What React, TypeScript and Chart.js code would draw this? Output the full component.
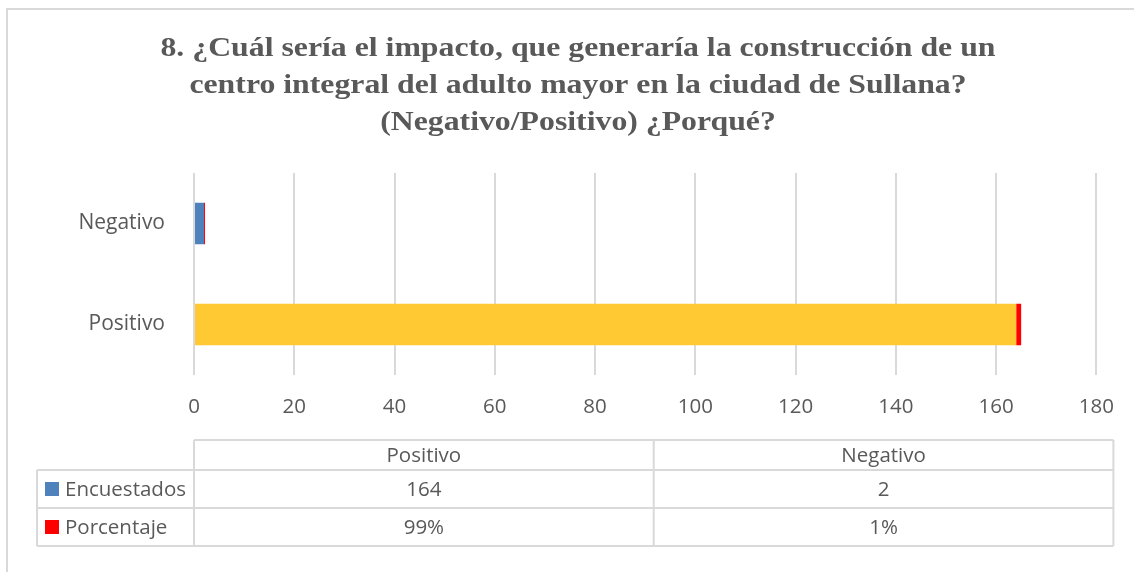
import React, { useEffect, useRef } from 'react';
import { Chart, registerables } from 'chart.js';

Chart.register(...registerables);

const categories = ['Positivo', 'Negativo'];
const encuestados = [164, 2];
const porcentaje = [0.99, 0.01];
const seriesNames = ['Encuestados', 'Porcentaje'];
const titleLines = [
  '8. ¿Cuál sería el impacto, que generaría la construcción de un',
  'centro integral del adulto mayor en la ciudad de Sullana?',
  '(Negativo/Positivo) ¿Porqué?',
];
const xMin = 0;
const xMax = 180;
const xStep = 20;

const encuestadosBarColors = ['#FFC933', '#4F81BD'];
const seriesColors = ['#4F81BD', '#FF0000'];
const TEXT = '#595959';
const LINE = '#D9D9D9';
const SANS = '"Open Sans", "Noto Sans", sans-serif';
const SERIF = '"Liberation Serif", "Times New Roman", serif';

const formatPct = (v: number) => `${Math.round(v * 100)}%`;

const framePlugin = {
  id: 'frame',
  beforeDraw(chart: any) {
    const { ctx, width, height } = chart;
    ctx.save();
    ctx.fillStyle = '#ffffff';
    ctx.fillRect(0, 0, width, height);
    ctx.strokeStyle = LINE;
    ctx.lineWidth = 2;
    ctx.beginPath();
    ctx.moveTo(7, height + 2);
    ctx.lineTo(7, 9);
    ctx.lineTo(width + 2, 9);
    ctx.stroke();
    ctx.restore();
  },
};

const titlePlugin = {
  id: 'stretchedTitle',
  afterDraw(chart: any) {
    const { ctx } = chart;
    const cx = 578;
    const sx = 1.135;
    ctx.save();
    ctx.fillStyle = TEXT;
    ctx.font = `bold 28px ${SERIF}`;
    ctx.textAlign = 'center';
    ctx.textBaseline = 'alphabetic';
    titleLines.forEach((line, i) => {
      ctx.save();
      ctx.translate(cx, 56 + i * 37);
      ctx.scale(sx, 1);
      ctx.fillText(line, 0, 0);
      ctx.restore();
    });
    ctx.restore();
  },
};

const tablePlugin = {
  id: 'dataTable',
  afterDraw(chart: any) {
    const { ctx, chartArea } = chart;
    const left = chartArea.left;
    const right = chartArea.right + 17;
    const legendLeft = 37;
    const colW = (right - left) / categories.length;
    const yHead = chartArea.bottom + 65;
    const y1 = yHead + 30;
    const y2 = y1 + 38;
    const y3 = y2 + 38;

    ctx.save();
    ctx.strokeStyle = LINE;
    ctx.lineWidth = 2;
    ctx.beginPath();
    ctx.moveTo(left, yHead);
    ctx.lineTo(right, yHead);
    [y1, y2, y3].forEach((y) => {
      ctx.moveTo(legendLeft, y);
      ctx.lineTo(right, y);
    });
    ctx.moveTo(legendLeft, y1);
    ctx.lineTo(legendLeft, y3);
    for (let i = 0; i <= categories.length; i++) {
      const x = left + colW * i;
      ctx.moveTo(x, yHead);
      ctx.lineTo(x, y3);
    }
    ctx.stroke();

    ctx.fillStyle = TEXT;
    ctx.font = `20.5px ${SANS}`;
    ctx.textBaseline = 'middle';
    ctx.textAlign = 'center';
    categories.forEach((c, i) => {
      const cx = left + colW * (i + 0.5);
      ctx.fillText(c, cx, (yHead + y1) / 2 + 1);
      ctx.fillText(String(encuestados[i]), cx, (y1 + y2) / 2 + 1);
      ctx.fillText(formatPct(porcentaje[i]), cx, (y2 + y3) / 2 + 1);
    });

    const rows = [(y1 + y2) / 2, (y2 + y3) / 2];
    seriesNames.forEach((name, i) => {
      ctx.fillStyle = seriesColors[i];
      ctx.fillRect(legendLeft + 8, rows[i] - 7, 14, 14);
      ctx.fillStyle = TEXT;
      ctx.textAlign = 'left';
      ctx.fillText(name, legendLeft + 28, rows[i] + 1);
    });
    ctx.restore();
  },
};

export default function App() {
  const ref = useRef<HTMLCanvasElement>(null);

  useEffect(() => {
    if (!ref.current) return;
    const chart = new Chart(ref.current, {
      type: 'bar',
      data: {
        labels: categories,
        datasets: [
          {
            label: seriesNames[0],
            data: encuestados,
            backgroundColor: encuestadosBarColors,
            stack: 's',
          },
          {
            label: seriesNames[1],
            data: porcentaje,
            backgroundColor: seriesColors[1],
            stack: 's',
            minBarLength: 1,
          },
        ],
      },
      options: {
        indexAxis: 'y',
        responsive: false,
        animation: false,
        events: [],
        barPercentage: 1,
        categoryPercentage: 0.41,
        layout: { padding: { left: 0, right: 35, top: 173, bottom: 0 } },
        scales: {
          x: {
            min: xMin,
            max: xMax,
            stacked: true,
            ticks: {
              stepSize: xStep,
              color: TEXT,
              font: { family: SANS, size: 20.5 },
              padding: 20,
            },
            grid: { color: LINE, lineWidth: 2, drawTicks: false },
            border: { display: false },
            afterFit: (s: any) => {
              s.height = 197;
            },
          },
          y: {
            reverse: true,
            stacked: true,
            ticks: {
              color: TEXT,
              font: { family: SANS, size: 21 },
              padding: 21,
            },
            grid: { display: false },
            border: { display: false },
            afterFit: (s: any) => {
              s.width = 194;
            },
          },
        },
        plugins: {
          legend: { display: false },
          tooltip: { enabled: false },
          title: { display: false },
        },
      },
      plugins: [framePlugin, titlePlugin, tablePlugin],
    });
    return () => chart.destroy();
  }, []);

  return (
    <div style={{ position: 'fixed', left: 0, top: 0, width: 1134, height: 572, background: '#fff' }}>
      <canvas ref={ref} width={1134} height={572} />
    </div>
  );
}
